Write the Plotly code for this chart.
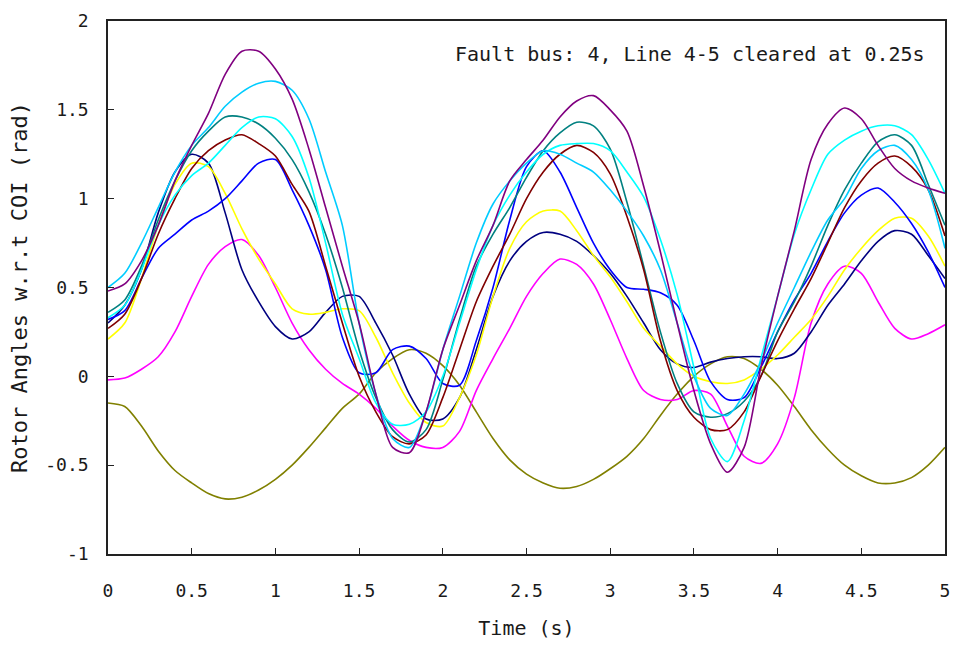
import plotly.graph_objects as go

time_s = [0.0, 0.1, 0.2, 0.3, 0.4, 0.5, 0.6, 0.7, 0.8, 0.9,
          1.0, 1.1, 1.2, 1.3, 1.4, 1.5, 1.6, 1.7, 1.8, 1.9,
          2.0, 2.1, 2.2, 2.3, 2.4, 2.5, 2.6, 2.7, 2.8, 2.9,
          3.0, 3.1, 3.2, 3.3, 3.4, 3.5, 3.6, 3.7, 3.8, 3.9,
          4.0, 4.1, 4.2, 4.3, 4.4, 4.5, 4.6, 4.7, 4.8, 4.9, 5.0]

olive = [-0.15, -0.17, -0.28, -0.42, -0.53, -0.60, -0.66, -0.69, -0.68, -0.64,
         -0.58, -0.50, -0.40, -0.29, -0.18, -0.10, 0.02, 0.10, 0.15, 0.13,
         0.06, -0.05, -0.20, -0.35, -0.47, -0.55, -0.60, -0.63, -0.62, -0.58,
         -0.52, -0.45, -0.35, -0.22, -0.10, 0.00, 0.07, 0.11, 0.10, 0.04,
         -0.05, -0.17, -0.30, -0.41, -0.50, -0.56, -0.60, -0.60, -0.57, -0.50, -0.40]

magenta = [-0.02, -0.01, 0.04, 0.11, 0.25, 0.45, 0.63, 0.73, 0.77, 0.68,
           0.50, 0.30, 0.15, 0.04, -0.04, -0.10, -0.18, -0.28, -0.36, -0.40,
           -0.40, -0.31, -0.08, 0.10, 0.27, 0.45, 0.58, 0.66, 0.63, 0.52,
           0.32, 0.10, -0.08, -0.13, -0.13, -0.08, -0.10, -0.28, -0.45, -0.49,
           -0.38, -0.12, 0.30, 0.52, 0.62, 0.58, 0.42, 0.27, 0.21, 0.24, 0.29]

navy = [0.30, 0.40, 0.60, 0.92, 1.15, 1.25, 1.20, 0.92, 0.60, 0.42,
        0.28, 0.21, 0.25, 0.36, 0.45, 0.45, 0.30, 0.12, -0.10, -0.24,
        -0.24, -0.12, 0.15, 0.45, 0.65, 0.76, 0.81, 0.80, 0.76, 0.68,
        0.58, 0.45, 0.30, 0.15, 0.07, 0.05, 0.08, 0.10, 0.11, 0.11,
        0.10, 0.13, 0.25, 0.40, 0.52, 0.65, 0.76, 0.82, 0.80, 0.68, 0.55]

yellow = [0.21, 0.30, 0.55, 0.85, 1.08, 1.20, 1.18, 1.03, 0.83, 0.66,
          0.52, 0.38, 0.35, 0.36, 0.38, 0.37, 0.22, 0.02, -0.15, -0.26,
          -0.28, -0.12, 0.12, 0.45, 0.72, 0.87, 0.93, 0.93, 0.82, 0.68,
          0.56, 0.42, 0.27, 0.17, 0.07, 0.00, -0.03, -0.04, -0.02, 0.04,
          0.12, 0.22, 0.32, 0.45, 0.60, 0.72, 0.82, 0.89, 0.89, 0.79, 0.62]

blue = [0.32, 0.37, 0.55, 0.72, 0.80, 0.88, 0.93, 1.00, 1.10, 1.20,
        1.22, 1.05, 0.85, 0.60, 0.22, 0.02, 0.02, 0.15, 0.17, 0.10,
        -0.04, -0.05, 0.20, 0.50, 0.88, 1.18, 1.27, 1.15, 0.95, 0.75,
        0.60, 0.50, 0.49, 0.47, 0.40, 0.20, -0.03, -0.13, -0.12, 0.05,
        0.25, 0.43, 0.58, 0.76, 0.92, 1.02, 1.06, 0.98, 0.86, 0.70, 0.50]

purple = [0.48, 0.52, 0.65, 0.85, 1.10, 1.30, 1.48, 1.70, 1.83, 1.83,
          1.73, 1.56, 1.28, 0.95, 0.62, 0.30, -0.10, -0.40, -0.43, -0.20,
          0.15, 0.40, 0.65, 0.85, 1.10, 1.22, 1.33, 1.46, 1.55, 1.58,
          1.50, 1.38, 1.07, 0.70, 0.30, -0.08, -0.38, -0.54, -0.40, 0.05,
          0.45, 0.82, 1.22, 1.42, 1.51, 1.45, 1.30, 1.17, 1.10, 1.06, 1.03]

teal = [0.36, 0.43, 0.62, 0.88, 1.10, 1.27, 1.38, 1.46, 1.46, 1.42,
        1.34, 1.22, 1.04, 0.80, 0.50, 0.15, -0.12, -0.30, -0.37, -0.30,
        -0.02, 0.32, 0.62, 0.80, 0.95, 1.12, 1.27, 1.37, 1.43, 1.41,
        1.28, 0.98, 0.62, 0.25, -0.04, -0.20, -0.23, -0.21, -0.14, 0.00,
        0.25, 0.42, 0.62, 0.85, 1.05, 1.20, 1.32, 1.36, 1.30, 1.08, 0.85]

maroon = [0.27, 0.35, 0.55, 0.80, 1.00, 1.17, 1.27, 1.33, 1.36, 1.31,
          1.24, 1.08, 0.93, 0.62, 0.30, 0.00, -0.20, -0.34, -0.38, -0.33,
          -0.12, 0.15, 0.42, 0.62, 0.80, 1.00, 1.15, 1.25, 1.30, 1.26,
          1.14, 0.90, 0.60, 0.20, -0.08, -0.23, -0.30, -0.30, -0.20, 0.00,
          0.20, 0.38, 0.55, 0.75, 0.95, 1.10, 1.20, 1.24, 1.18, 1.05, 0.79]

sky = [0.50, 0.58, 0.75, 0.95, 1.15, 1.30, 1.40, 1.52, 1.60, 1.65,
       1.66, 1.61, 1.45, 1.15, 0.85, 0.30, -0.10, -0.35, -0.40, -0.20,
       0.15, 0.45, 0.75, 0.97, 1.10, 1.20, 1.27, 1.25, 1.20, 1.15,
       1.05, 0.93, 0.79, 0.60, 0.30, 0.00, -0.18, -0.22, -0.10, 0.08,
       0.30, 0.50, 0.70, 0.88, 1.00, 1.17, 1.27, 1.30, 1.22, 1.05, 0.72]

cyan = [0.33, 0.40, 0.60, 0.85, 1.02, 1.13, 1.20, 1.30, 1.40, 1.46,
        1.45, 1.35, 1.12, 0.75, 0.35, 0.10, -0.15, -0.27, -0.27, -0.20,
        0.00, 0.30, 0.60, 0.85, 1.02, 1.15, 1.25, 1.30, 1.31, 1.31,
        1.27, 1.15, 1.01, 0.77, 0.46, 0.05, -0.35, -0.48, -0.25, 0.10,
        0.45, 0.80, 1.05, 1.25, 1.33, 1.38, 1.41, 1.41, 1.36, 1.22, 1.03]

series = [
    (olive, "#808000"),
    (magenta, "#FF00FF"),
    (navy, "#000080"),
    (yellow, "#FFFF00"),
    (blue, "#0000FF"),
    (teal, "#008080"),
    (maroon, "#800000"),
    (cyan, "#00FFFF"),
    (sky, "#00CCFF"),
    (purple, "#800080"),
]

x_ticks = [0, 0.5, 1, 1.5, 2, 2.5, 3, 3.5, 4, 4.5, 5]
x_tick_text = ["0", "0.5", "1", "1.5", "2", "2.5", "3", "3.5", "4", "4.5", "5"]
y_ticks = [-1, -0.5, 0, 0.5, 1, 1.5, 2]
y_tick_text = ["-1", "-0.5", "0", "0.5", "1", "1.5", "2"]

FONT = "DejaVu Sans Mono, monospace"
TXT = "#1a1a1a"

fig = go.Figure()
for vals, col in series:
    fig.add_trace(go.Scatter(x=time_s, y=vals, mode="lines",
                             line=dict(color=col, width=1.6, shape="spline", smoothing=0.8),
                             showlegend=False, hoverinfo="skip"))

fig.update_layout(
    width=960, height=648,
    margin=dict(l=108, r=10, t=17, b=94),
    paper_bgcolor="white", plot_bgcolor="white",
    font=dict(family=FONT, size=18, color=TXT),
    showlegend=False,
    annotations=[dict(text="Fault bus: 4, Line 4-5 cleared at 0.25s",
                      xref="paper", yref="paper", x=0.979, y=0.938,
                      xanchor="right", yanchor="middle", showarrow=False,
                      font=dict(family=FONT, size=20, color=TXT))],
)
fig.update_xaxes(range=[0, 5], tickvals=x_ticks, ticktext=x_tick_text,
                 showgrid=False, zeroline=False, showline=True, linecolor="#222",
                 linewidth=1.5, mirror=True, ticks="inside", ticklen=6, tickcolor="#222",
                 ticklabelstandoff=20, tickfont=dict(family=FONT, size=18, color=TXT),
                 title=dict(text="Time (s)", font=dict(family=FONT, size=20, color=TXT), standoff=21))
fig.update_yaxes(range=[-1, 2], tickvals=y_ticks, ticktext=y_tick_text,
                 showgrid=False, zeroline=False, showline=True, linecolor="#222",
                 linewidth=1.5, mirror=True, ticks="inside", ticklen=6, tickcolor="#222",
                 ticklabelstandoff=14, tickfont=dict(family=FONT, size=18, color=TXT),
                 title=dict(text="Rotor Angles w.r.t COI (rad)", font=dict(family=FONT, size=22, color=TXT), standoff=12))

fig.write_html("out.html")
